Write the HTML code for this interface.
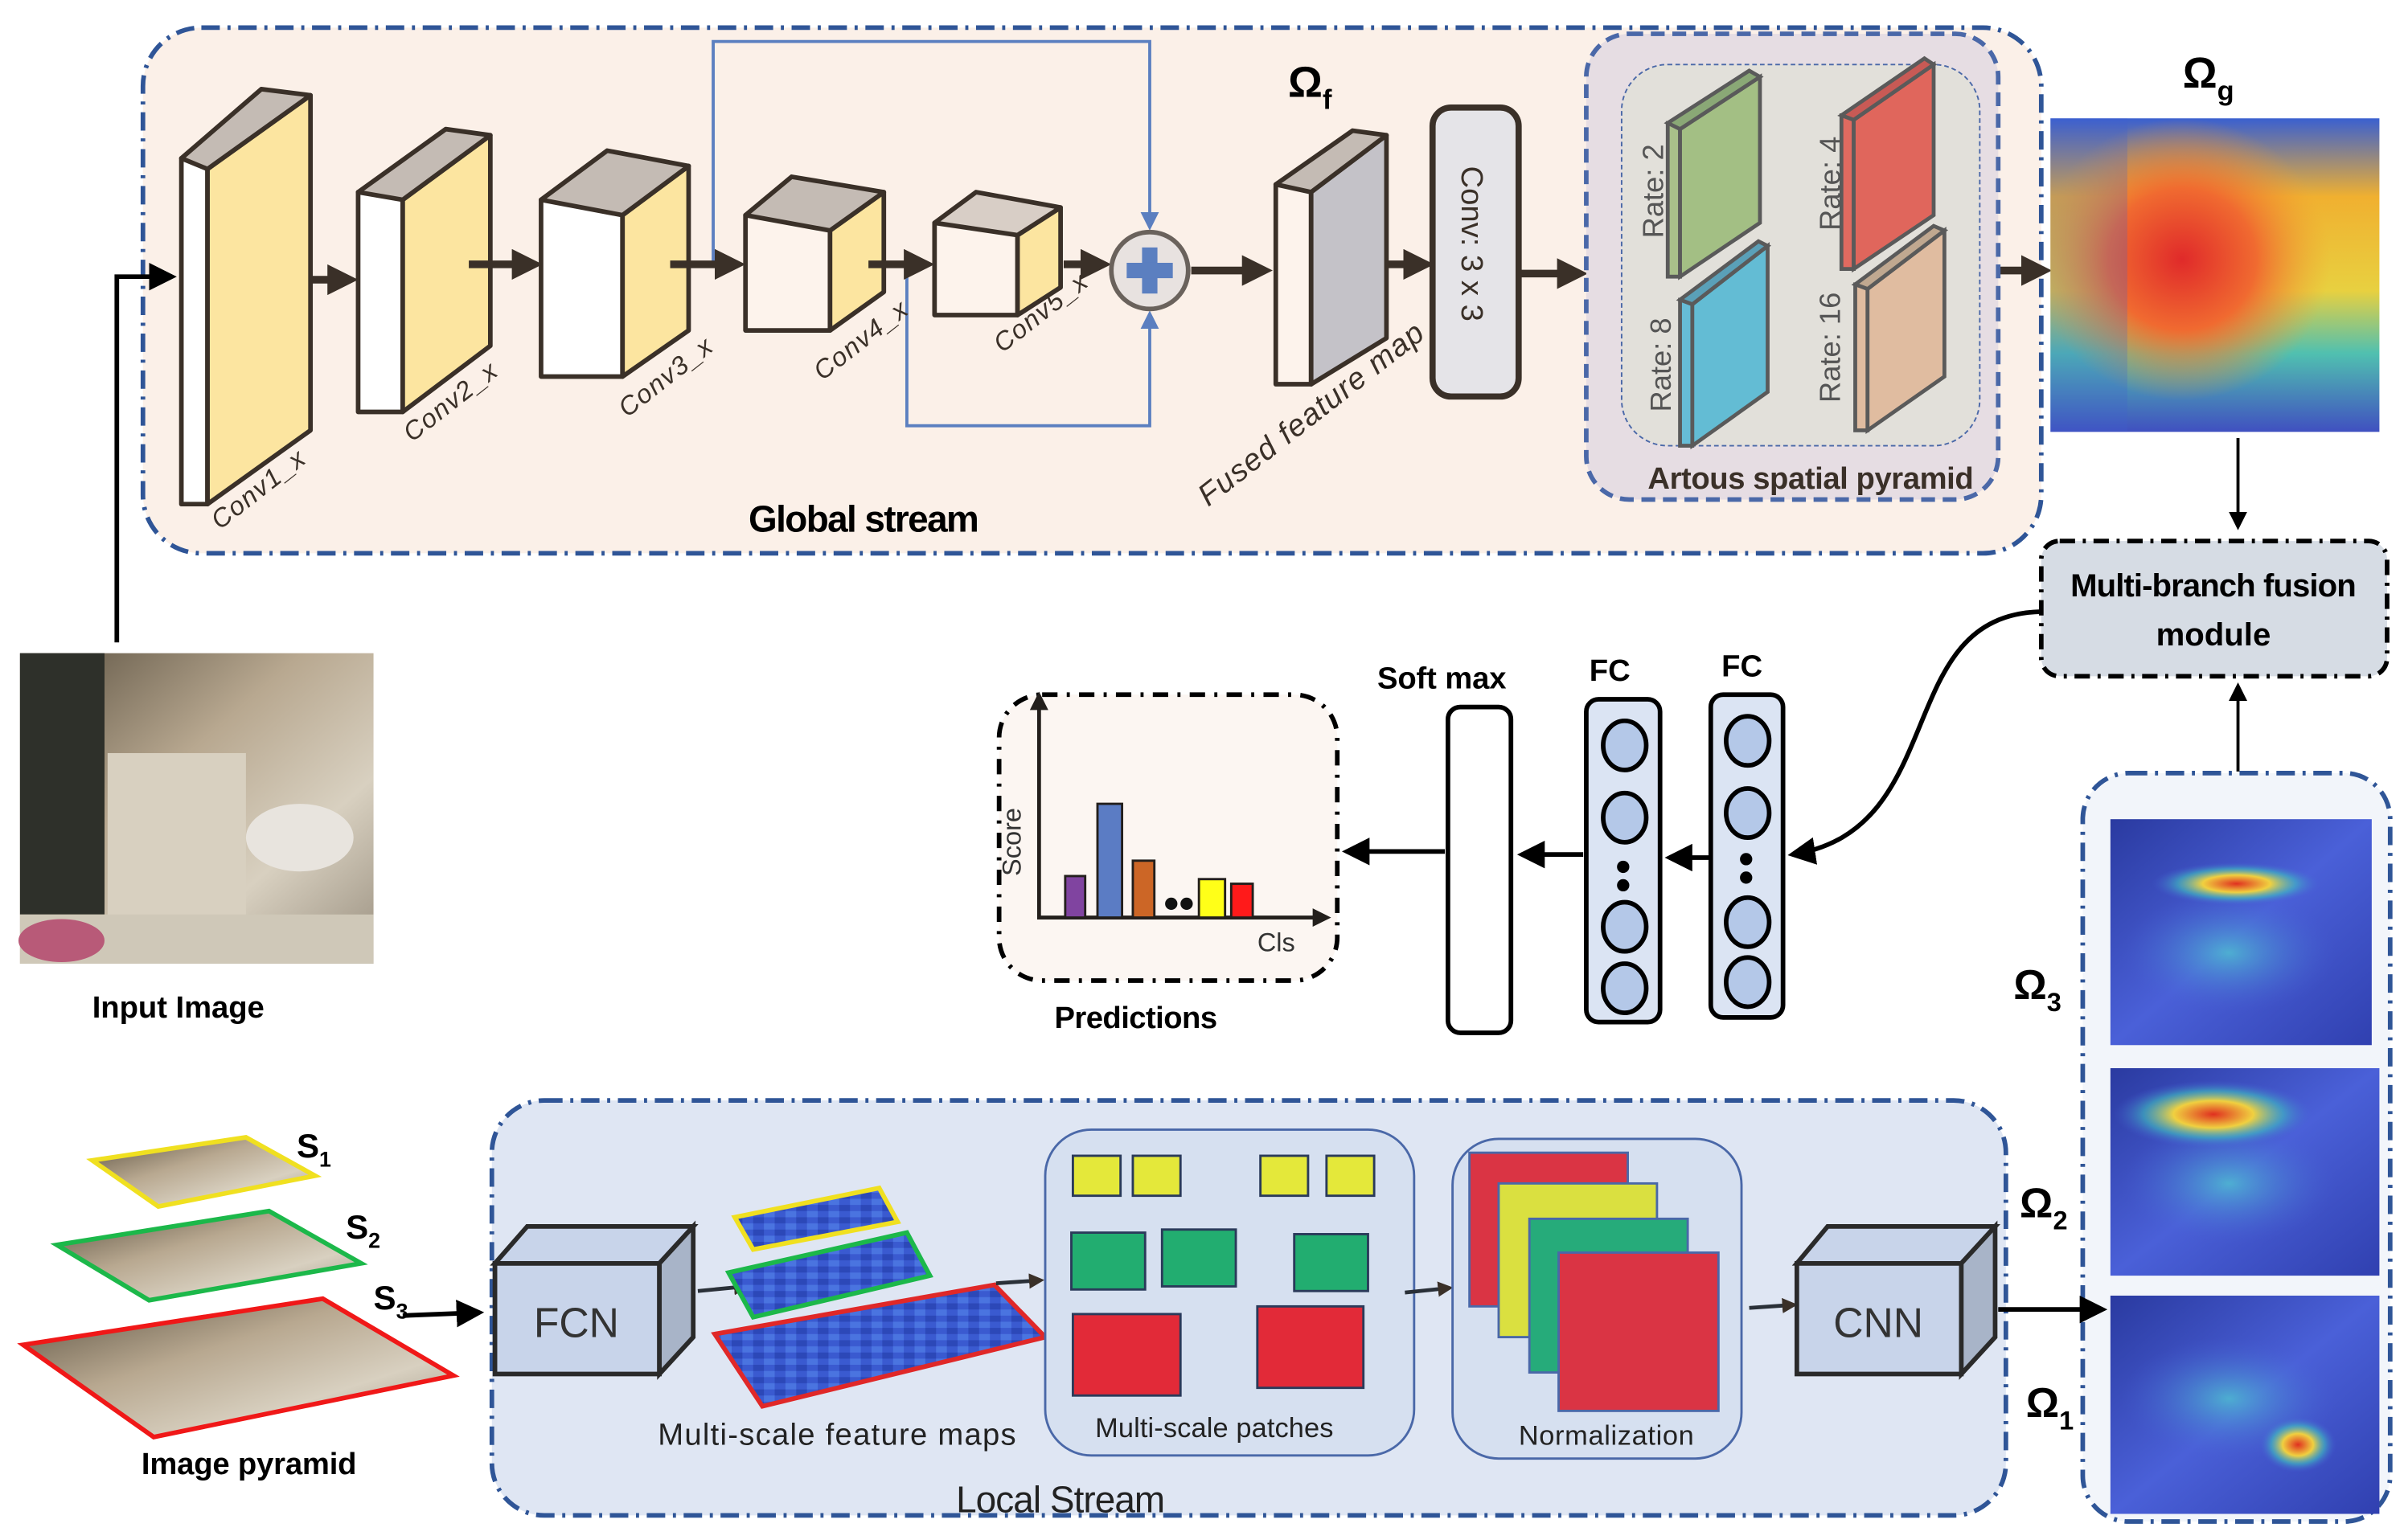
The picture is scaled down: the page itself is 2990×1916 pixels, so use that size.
<!DOCTYPE html>
<html><head><meta charset="utf-8"><style>
html,body{margin:0;padding:0;background:#fff;}
svg{display:block;}
text{font-family:"Liberation Sans Narrow","Liberation Sans",sans-serif;}
</style></head><body>
<svg width="2990" height="1916" viewBox="0 0 1564 1002" preserveAspectRatio="none" xmlns="http://www.w3.org/2000/svg">
<defs>
<marker id="ad" markerWidth="4" markerHeight="4" refX="3" refY="2" orient="auto"><path d="M0,0L4,2L0,4z" fill="#3a3028"/></marker>
<marker id="ab" markerWidth="6" markerHeight="6" refX="5" refY="3" orient="auto"><path d="M0,0L6,3L0,6z" fill="#000"/></marker>
<marker id="abl" markerWidth="6" markerHeight="6" refX="5" refY="3" orient="auto"><path d="M0,0L6,3L0,6z" fill="#5b7fc0"/></marker>
<linearGradient id="hgbase" x1="0" y1="0" x2="0" y2="1"><stop offset="0" stop-color="#3a60d0"/><stop offset="0.25" stop-color="#f0b030"/><stop offset="0.55" stop-color="#e8d040"/><stop offset="0.75" stop-color="#50c0b0"/><stop offset="1" stop-color="#4050c0"/></linearGradient>
<radialGradient id="hg" cx="0.4" cy="0.45" r="0.45">
<stop offset="0" stop-color="#e02a2a"/><stop offset="0.5" stop-color="#f06a30"/><stop offset="1" stop-color="#f0a030" stop-opacity="0"/></radialGradient>
<linearGradient id="blue" x1="0" y1="0" x2="1" y2="1"><stop offset="0" stop-color="#2a3aa0"/><stop offset="0.5" stop-color="#4a60d8"/><stop offset="1" stop-color="#3040b0"/></linearGradient>
<radialGradient id="hot" cx="0.5" cy="0.5" r="0.5"><stop offset="0" stop-color="#e03020"/><stop offset="0.4" stop-color="#f0d040"/><stop offset="0.7" stop-color="#40c0c0" stop-opacity="0.6"/><stop offset="1" stop-color="#4a60d8" stop-opacity="0"/></radialGradient>
<radialGradient id="cy" cx="0.5" cy="0.5" r="0.5"><stop offset="0" stop-color="#50d0d0" stop-opacity="0.7"/><stop offset="1" stop-color="#4a60d8" stop-opacity="0"/></radialGradient>
<linearGradient id="room" x1="0" y1="0" x2="1" y2="1"><stop offset="0" stop-color="#5a5040"/><stop offset="0.4" stop-color="#b8a890"/><stop offset="0.7" stop-color="#d8d0c0"/><stop offset="1" stop-color="#9a9080"/></linearGradient>
<pattern id="fm" width="14" height="8" patternUnits="userSpaceOnUse"><rect width="14" height="8" fill="#3a5ad0"/><rect x="0" y="0" width="7" height="4" fill="#2c48b8"/><rect x="7" y="4" width="7" height="4" fill="#4a74e0"/></pattern>
</defs>

<rect x="93" y="18" width="1235" height="342" rx="38" fill="#fbf0e8" stroke="#2f5597" stroke-width="3" stroke-dasharray="12,5,2,5"/>
<polyline points="464,172 464,27 748,27 748,148" fill="none" stroke="#5b7fc0" stroke-width="2" marker-end="url(#abl)"/>
<polyline points="590,172 590,277 748,277 748,204" fill="none" stroke="#5b7fc0" stroke-width="2" marker-end="url(#abl)"/>
<g stroke="#3a3028" stroke-width="3" stroke-linejoin="round">
<rect x="118" y="103" width="17" height="225" fill="#fff"/>
<polygon points="135,110 202,62 202,280 135,328" fill="#fce5a0"/>
<polygon points="118,103 170,58 202,62 135,110" fill="#c4bbb4"/>
<rect x="233" y="125" width="29" height="143" fill="#fff"/>
<polygon points="262,130 319,88 319,225 262,268" fill="#fce5a0"/>
<polygon points="233,125 290,84 319,88 262,130" fill="#c4bbb4"/>
<rect x="352" y="130" width="53" height="115" fill="#fff"/>
<polygon points="405,140 448,108 448,215 405,245" fill="#fce5a0"/>
<polygon points="352,130 395,98 448,108 405,140" fill="#c4bbb4"/>
<rect x="485" y="140" width="55" height="75" fill="#fdf3ec"/>
<polygon points="540,150 575,125 575,190 540,215" fill="#fce5a0"/>
<polygon points="485,140 515,115 575,125 540,150" fill="#c4bbb4"/>
<rect x="608" y="145" width="54" height="60" fill="#fdf3ec"/>
<polygon points="662,153 690,135 690,187 662,205" fill="#fce5a0"/>
<polygon points="608,145 635,125 690,135 662,153" fill="#d8cec6"/>
<rect x="830" y="120" width="23" height="130" fill="#fdf3ec"/>
<polygon points="853,125 902,88 902,220 853,250" fill="#c4c2c8"/>
<polygon points="830,120 880,85 902,88 853,125" fill="#c4bbb4"/>
</g>
<g stroke="#3a3028" stroke-width="5" fill="none" marker-end="url(#ad)">
<line x1="202" y1="182" x2="228" y2="182"/>
<line x1="305" y1="172" x2="348" y2="172"/>
<line x1="436" y1="172" x2="480" y2="172"/>
<line x1="565" y1="172" x2="603" y2="172"/>
<line x1="692" y1="172" x2="718" y2="172"/>
<line x1="775" y1="176" x2="823" y2="176"/>
<line x1="902" y1="172" x2="928" y2="172"/>
<line x1="988" y1="178" x2="1028" y2="178"/>
<line x1="1292" y1="176" x2="1330" y2="176"/>
</g>
<circle cx="748" cy="176" r="25" fill="#e8e2e0" stroke="#6a625c" stroke-width="3"/>
<rect x="743" y="161" width="10" height="30" fill="#5b7fc0"/><rect x="733" y="171" width="30" height="10" fill="#5b7fc0"/>
<g font-style="italic" font-size="17" fill="#3a3028">
<text transform="translate(143,345) rotate(-38)" textLength="72">Conv1_x</text>
<text transform="translate(268,288) rotate(-38)" textLength="72">Conv2_x</text>
<text transform="translate(408,272) rotate(-38)" textLength="72">Conv3_x</text>
<text transform="translate(535,248) rotate(-38)" textLength="72">Conv4_x</text>
<text transform="translate(652,230) rotate(-38)" textLength="72">Conv5_x</text>
<text transform="translate(786,330) rotate(-38)" font-size="20" textLength="180">Fused feature map</text>
</g>
<text x="487" y="346" font-size="24" font-weight="bold" fill="#000" textLength="150">Global stream</text>
<text x="838" y="63" font-size="28" font-weight="bold" font-family="Liberation Sans">Ω<tspan font-size="18" dy="8">f</tspan></text>
<rect x="932" y="70" width="56" height="188" rx="12" fill="#e5e4e8" stroke="#3a3028" stroke-width="4"/>
<text transform="translate(951,108) rotate(90)" font-size="20" font-family="Liberation Sans" fill="#3a3028">Conv: 3 x 3</text>
<rect x="1032" y="22" width="268" height="303" rx="28" fill="#e6dde3" stroke="#4a68a8" stroke-width="3" stroke-dasharray="9,5"/>
<rect x="1055" y="42" width="233" height="248" rx="30" fill="#e2e0da" stroke="#4a68a8" stroke-width="1" stroke-dasharray="3,2"/>
<g stroke="#5a5a5a" stroke-width="2.5">
<rect x="1085" y="80" width="8" height="100" fill="#a9c08a"/><polygon points="1093,84 1145,50 1145,145 1093,180" fill="#a3bf84"/><polygon points="1085,80 1138,46 1145,50 1093,84" fill="#8aa876"/>
<rect x="1198" y="75" width="8" height="100" fill="#e06a60"/><polygon points="1206,78 1258,42 1258,140 1206,175" fill="#e0665c"/><polygon points="1198,75 1252,38 1258,42 1206,78" fill="#c85a55"/>
<rect x="1093" y="195" width="8" height="95" fill="#66bcd6"/><polygon points="1101,198 1150,160 1150,255 1101,290" fill="#63bcd4"/><polygon points="1093,195 1144,157 1150,160 1101,198" fill="#5aa0b8"/>
<rect x="1207" y="185" width="8" height="95" fill="#e0bca0"/><polygon points="1215,188 1265,150 1265,245 1215,280" fill="#e0bca0"/><polygon points="1207,185 1258,147 1265,150 1215,188" fill="#c0a890"/>
</g>
<g font-size="19" font-family="Liberation Sans" fill="#555">
<text transform="translate(1082,155) rotate(-90)">Rate: 2</text>
<text transform="translate(1197,150) rotate(-90)">Rate: 4</text>
<text transform="translate(1087,268) rotate(-90)">Rate: 8</text>
<text transform="translate(1197,262) rotate(-90)">Rate: 16</text>
</g>
<text x="1072" y="318" font-size="20" font-weight="bold" fill="#3a3028" textLength="212">Artous spatial pyramid</text>
<text x="1420" y="57" font-size="28" font-weight="bold" font-family="Liberation Sans">Ω<tspan font-size="18" dy="8">g</tspan></text>
<rect x="1334" y="77" width="214" height="204" fill="url(#hgbase)"/>
<rect x="1334" y="77" width="214" height="204" fill="url(#hg)"/>
<rect x="1334" y="77" width="50" height="204" fill="#4060d0" opacity="0.25"/>
<line x1="1456" y1="285" x2="1456" y2="343" stroke="#000" stroke-width="2" marker-end="url(#ab)"/>
<rect x="1328" y="352" width="225" height="88" rx="12" fill="#d6dce4" stroke="#000" stroke-width="3" stroke-dasharray="10,5,2,5"/>
<text x="1440" y="388" font-size="21" font-weight="bold" text-anchor="middle" textLength="186">Multi-branch fusion</text>
<text x="1440" y="420" font-size="21" font-weight="bold" text-anchor="middle">module</text>
<line x1="1456" y1="502" x2="1456" y2="446" stroke="#000" stroke-width="2" marker-end="url(#ab)"/>
<path d="M1328,398 C1230,400 1270,540 1166,556" fill="none" stroke="#000" stroke-width="3" marker-end="url(#ab)"/>
<polyline points="76,418 76,180 112,180" fill="none" stroke="#000" stroke-width="3" marker-end="url(#ab)"/>
<rect x="13" y="425" width="230" height="202" fill="url(#room)"/>
<rect x="13" y="425" width="55" height="170" fill="#2e302a"/>
<rect x="70" y="490" width="90" height="110" fill="#d8d0c0"/>
<ellipse cx="195" cy="545" rx="35" ry="22" fill="#e8e4de"/>
<rect x="13" y="595" width="230" height="32" fill="#cfc8b8"/>
<ellipse cx="40" cy="612" rx="28" ry="14" fill="#b85a78"/>
<text x="60" y="662" font-size="20" font-weight="bold" textLength="112">Input Image</text>
<rect x="650" y="452" width="220" height="186" rx="28" fill="#fcf6f2" stroke="#000" stroke-width="3" stroke-dasharray="10,6,2,6"/>
<polyline points="676,455 676,597 860,597" fill="none" stroke="#231f1c" stroke-width="2.5"/>
<path d="M670,462 L676,450 L682,462z M854,591 L866,597 L854,603z" fill="#231f1c"/>
<g stroke="#231f1c" stroke-width="1.5">
<rect x="693" y="570" width="13" height="27" fill="#8044a0"/>
<rect x="714" y="523" width="16" height="74" fill="#5b7cc4"/>
<rect x="737" y="560" width="14" height="37" fill="#cc6626"/>
<rect x="780" y="572" width="17" height="25" fill="#ffff18"/>
<rect x="801" y="575" width="14" height="22" fill="#ff1a1a"/>
</g>
<circle cx="762" cy="588" r="4" fill="#111"/><circle cx="772" cy="588" r="4" fill="#111"/>
<text transform="translate(664,570) rotate(-90)" font-size="17" fill="#333">Score</text>
<text x="818" y="619" font-size="17" fill="#333">Cls</text>
<text x="686" y="669" font-size="20" font-weight="bold" textLength="106">Predictions</text>
<rect x="942" y="460" width="41" height="212" rx="8" fill="#fff" stroke="#000" stroke-width="3"/>
<text x="896" y="448" font-size="20" font-weight="bold" textLength="84">Soft max</text>
<rect x="1032" y="455" width="48" height="210" rx="8" fill="#dbe4f3" stroke="#000" stroke-width="3"/>
<rect x="1113" y="452" width="47" height="210" rx="8" fill="#dbe4f3" stroke="#000" stroke-width="3"/>
<text x="1034" y="443" font-size="20" font-weight="bold">FC</text>
<text x="1120" y="440" font-size="20" font-weight="bold">FC</text>
<g fill="#b4c8e8" stroke="#000" stroke-width="3">
<ellipse cx="1057" cy="485" rx="14" ry="16"/><ellipse cx="1057" cy="532" rx="14" ry="16"/><ellipse cx="1057" cy="603" rx="14" ry="16"/><ellipse cx="1057" cy="643" rx="14" ry="16"/>
<ellipse cx="1137" cy="482" rx="14" ry="16"/><ellipse cx="1137" cy="529" rx="14" ry="16"/><ellipse cx="1137" cy="600" rx="14" ry="16"/><ellipse cx="1137" cy="639" rx="14" ry="16"/>
</g>
<circle cx="1056" cy="564" r="4"/><circle cx="1056" cy="576" r="4"/><circle cx="1136" cy="559" r="4"/><circle cx="1136" cy="571" r="4"/>
<g stroke="#000" stroke-width="3" marker-end="url(#ab)">
<line x1="940" y1="554" x2="876" y2="554"/>
<line x1="1030" y1="556" x2="990" y2="556"/>
<line x1="1112" y1="558" x2="1086" y2="558"/>
</g>
<rect x="1355" y="503" width="200" height="487" rx="30" fill="#f2f5fa" stroke="#2f5597" stroke-width="3" stroke-dasharray="12,5,2,5"/>
<rect x="1373" y="533" width="170" height="147" fill="url(#blue)"/>
<ellipse cx="1450" cy="620" rx="70" ry="40" fill="url(#cy)"/>
<ellipse cx="1455" cy="575" rx="55" ry="14" fill="url(#hot)"/>
<rect x="1373" y="695" width="175" height="135" fill="url(#blue)"/>
<ellipse cx="1450" cy="770" rx="70" ry="40" fill="url(#cy)"/>
<ellipse cx="1440" cy="725" rx="65" ry="22" fill="url(#hot)"/>
<rect x="1373" y="843" width="175" height="142" fill="url(#blue)"/>
<ellipse cx="1450" cy="910" rx="70" ry="40" fill="url(#cy)"/>
<ellipse cx="1495" cy="940" rx="25" ry="18" fill="url(#hot)"/>
<g font-family="Liberation Sans" font-weight="bold" font-size="27">
<text x="1310" y="650">Ω<tspan font-size="17" dy="8">3</tspan></text>
<text x="1314" y="792">Ω<tspan font-size="17" dy="8">2</tspan></text>
<text x="1318" y="922">Ω<tspan font-size="17" dy="8">1</tspan></text>
</g>
<rect x="320" y="716" width="985" height="270" rx="34" fill="#dfe6f3" stroke="#2f5597" stroke-width="3" stroke-dasharray="12,5,2,5"/>
<polygon points="60,755 160,740 205,765 103,785" fill="url(#room)" stroke="#f0e020" stroke-width="3"/>
<polygon points="37,810 175,788 235,822 97,846" fill="url(#room)" stroke="#1cb84a" stroke-width="3"/>
<polygon points="15,875 210,845 295,895 100,935" fill="url(#room)" stroke="#f01818" stroke-width="3"/>
<g font-family="Liberation Sans" font-weight="bold" font-size="22">
<text x="193" y="753">S<tspan font-size="14" dy="6">1</tspan></text>
<text x="225" y="806">S<tspan font-size="14" dy="6">2</tspan></text>
<text x="243" y="852">S<tspan font-size="14" dy="6">3</tspan></text>
</g>
<line x1="262" y1="856" x2="312" y2="854" stroke="#000" stroke-width="3" marker-end="url(#ab)"/>
<text x="92" y="959" font-size="20" font-weight="bold" textLength="140">Image pyramid</text>
<g stroke="#2a2a2a" stroke-width="3">
<rect x="322" y="822" width="107" height="72" fill="#c8d4ea"/>
<polygon points="322,822 343,798 451,798 429,822" fill="#c8d4ea"/>
<polygon points="429,822 451,798 451,870 429,894" fill="#a8b4c8"/>
</g>
<text x="375" y="870" font-size="27" text-anchor="middle" fill="#333">FCN</text>
<line x1="454" y1="840" x2="485" y2="837" stroke="#2a3038" stroke-width="2.5" marker-end="url(#ad)"/>
<polygon points="478,792 572,773 584,795 490,813" fill="url(#fm)" stroke="#f0e020" stroke-width="3"/>
<polygon points="474,828 590,802 605,830 490,857" fill="url(#fm)" stroke="#1cb84a" stroke-width="3"/>
<polygon points="465,868 647,836 680,870 496,915" fill="url(#fm)" stroke="#e02828" stroke-width="3"/>
<text x="428" y="940" font-size="20" fill="#222" textLength="233">Multi-scale feature maps</text>
<line x1="648" y1="835" x2="677" y2="833" stroke="#2a3038" stroke-width="2.5" marker-end="url(#ad)"/>
<rect x="680" y="735" width="240" height="212" rx="30" fill="#d6e0f0" stroke="#4a68a8" stroke-width="1.5"/>
<g stroke="#2a3a5a" stroke-width="1.5">
<rect x="698" y="752" width="31" height="26" fill="#e4e83a"/><rect x="737" y="752" width="31" height="26" fill="#e4e83a"/>
<rect x="820" y="752" width="31" height="26" fill="#e4e83a"/><rect x="863" y="752" width="31" height="26" fill="#e4e83a"/>
<rect x="697" y="802" width="48" height="37" fill="#22ad70"/><rect x="756" y="800" width="48" height="37" fill="#22ad70"/><rect x="842" y="803" width="48" height="37" fill="#22ad70"/>
<rect x="698" y="855" width="70" height="53" fill="#e22a38"/><rect x="818" y="850" width="69" height="53" fill="#e22a38"/>
</g>
<text x="790" y="935" font-size="18" text-anchor="middle" fill="#222" textLength="155">Multi-scale patches</text>
<line x1="914" y1="841" x2="943" y2="838" stroke="#2a3038" stroke-width="2.5" marker-end="url(#ad)"/>
<rect x="945" y="741" width="188" height="208" rx="30" fill="#d6e0f0" stroke="#4a68a8" stroke-width="1.5"/>
<g stroke="#4a68a8" stroke-width="1.5">
<rect x="956" y="750" width="103" height="100" fill="#da3444"/>
<rect x="975" y="770" width="103" height="100" fill="#dae040"/>
<rect x="995" y="793" width="103" height="100" fill="#26ab7a"/>
<rect x="1014" y="815" width="104" height="103" fill="#da3444"/>
</g>
<text x="1045" y="940" font-size="18" text-anchor="middle" fill="#222" textLength="114">Normalization</text>
<line x1="1138" y1="851" x2="1167" y2="849" stroke="#2a3038" stroke-width="2.5" marker-end="url(#ad)"/>
<g stroke="#2a2a2a" stroke-width="3">
<rect x="1169" y="822" width="107" height="72" fill="#c8d4ea"/>
<polygon points="1169,822 1189,798 1298,798 1276,822" fill="#c8d4ea"/>
<polygon points="1276,822 1298,798 1298,870 1276,894" fill="#a8b4c8"/>
</g>
<text x="1222" y="870" font-size="27" text-anchor="middle" fill="#333">CNN</text>
<line x1="1300" y1="852" x2="1368" y2="852" stroke="#000" stroke-width="3" marker-end="url(#ab)"/>
<text x="622" y="984" font-size="24" fill="#222" textLength="136">Local Stream</text>
</svg>
</body></html>
